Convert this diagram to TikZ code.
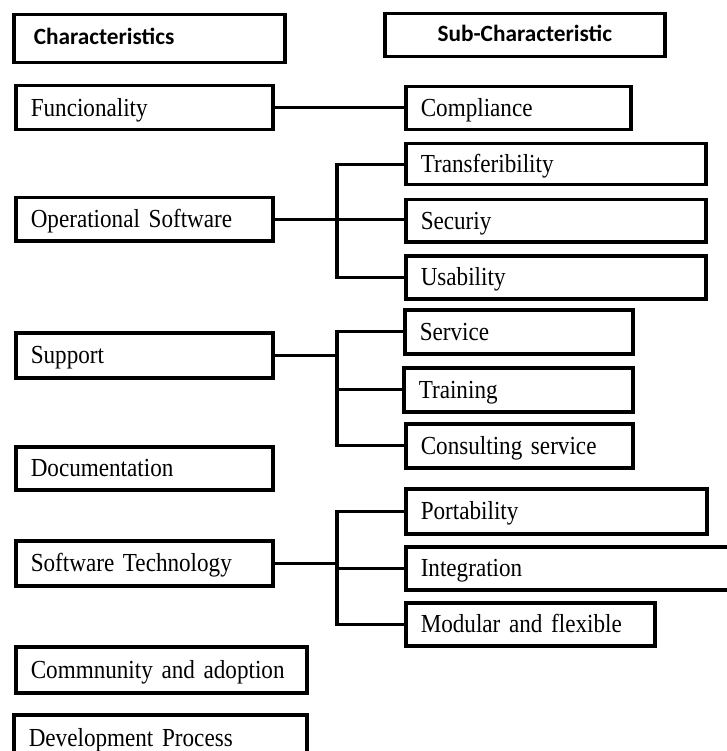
\documentclass[tikz,border=0pt]{standalone}
\usepackage{fontspec}
\setmainfont{Liberation Serif}[FakeStretch=0.89]
\newfontfamily\headfont{Carlito}
\usepackage{tikz}
\newcommand\boxfont{\fontsize{26}{30}\selectfont\spaceskip=4.3pt plus 1pt minus 1pt\relax}

\begin{document}
\begin{tikzpicture}[x=1pt, y=-1pt,
        cbox/.style={draw=black, line width=3.5pt, anchor=north west, inner xsep=15pt,
        inner ysep=0pt, align=left, text height=19pt, text depth=2pt,
        font=\boxfont},
        hbox/.style={cbox, inner xsep=20pt, text height=15pt, text depth=4pt,
        font=\headfont\bfseries\fontsize{23.3}{27}\selectfont},
        link/.style={draw=black, line width=3.2pt}]
        \useasboundingbox (0,0) rectangle (726,751);
        \node[hbox, text width=231pt, minimum height=48pt] (charh) at (12,13) {Characteristics};
        \node[hbox, align=center, text width=240pt, minimum height=43pt,
        text height=17pt] (subh) at (383,12) {Sub-Characteristic};
        \foreach \nm/\x/\y/\w/\h/\txt in {func/14/84/227/44/Funcionality,
        opsw/14/196/227/43/Operational Software, supp/14/331/227/45/Support,
        docu/14/445/227/43/Documentation, soft/14/539/227/45/Software Technology,
        comm/14/645/261/46/Commnunity and adoption, devp/12/713/263/46/Development Process}
        \node[cbox, text width=\w pt, minimum height=\h pt] (\nm) at (\x,\y) {\txt};
        \foreach \nm/\x/\y/\w/\h/\txt in {comp/404/85/195/43/Compliance,
        trans/404/142/270/41/Transferibility, secu/404/198/270/42/Securiy,
        usab/404/254/270/43/Usability, serv/403/308/198/44/Service,
        trai/402/366/199/44/Training, cons/404/422/197/44/Consulting service,
        port/404/487/271/45/Portability, inte/404/545/310/43/Integration,
        modu/404/601/219/43/Modular and flexible}
        \node[cbox, text width=\w pt, minimum height=\h pt] (\nm) at (\x,\y) {\txt};
        \coordinate (opj) at (337,0);
        \coordinate (supj) at (337,0);
        \coordinate (stj) at (337,0);
        \draw[link] (func.east) -- (func.east -| comp.west);
        \draw[link] (opsw.east) -- (opsw.east -| secu.west);
        \draw[link] (trans.west) -- (trans.west -| opj) -- (usab.west -| opj) -- (usab.west);
        \draw[link] (supp.east) -- (supp.east -| supj);
        \draw[link] (serv.west) -- (serv.west -| supj) -- (cons.west -| supj) -- (cons.west);
        \draw[link] (trai.west) -- (trai.west -| supj);
        \draw[link] (soft.east) -- (soft.east -| stj);
        \draw[link] (port.west) -- (port.west -| stj) -- (modu.west -| stj) -- (modu.west);
        \draw[link] (inte.west) -- (inte.west -| stj);
    \end{tikzpicture}
\end{document}
